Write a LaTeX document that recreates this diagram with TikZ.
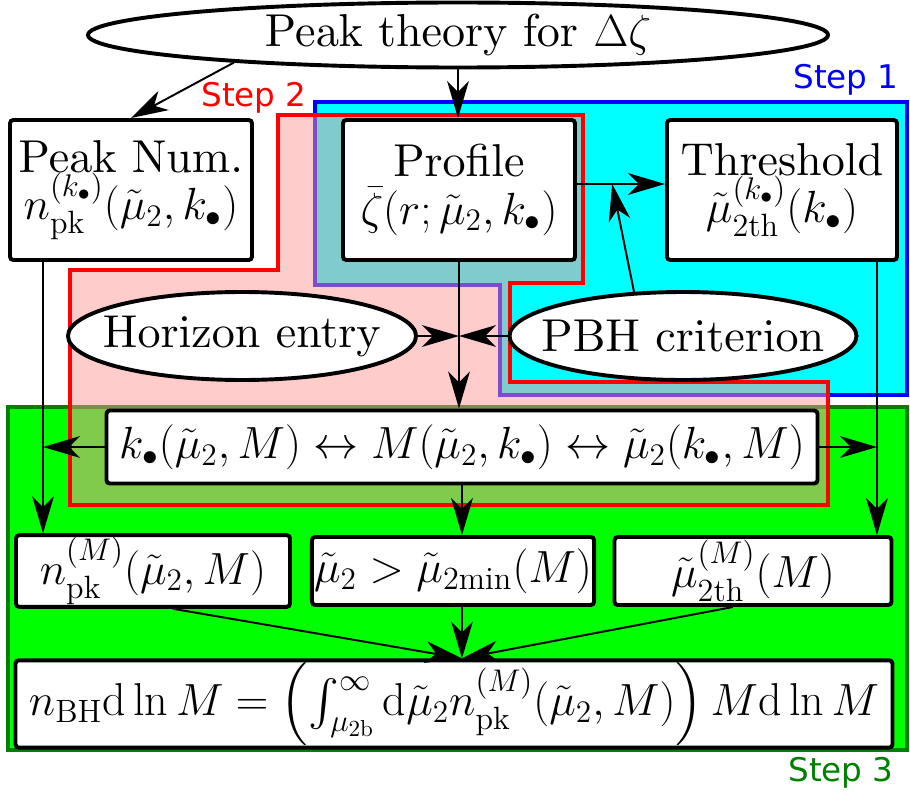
\documentclass[tikz,border=0pt]{standalone}
\usepackage{amsmath,amssymb}
\usepackage{fontspec}
\newfontfamily\stepfont{DejaVu Sans}
\usetikzlibrary{arrows.meta,calc,positioning,shapes.geometric}
\newlength\pxunit
\setlength\pxunit{0.46pt}
\font\boxrm=cmr10 at 21.2pt
\definecolor{stepcyan}{RGB}{0,255,255}
\definecolor{stepgreen}{RGB}{0,255,0}
\definecolor{stepdarkgreen}{RGB}{0,128,0}
\definecolor{stepblue}{RGB}{0,0,255}
\definecolor{stepred}{RGB}{255,0,0}

\tikzset{
  box/.style={draw, line width=1.8pt, rounded corners=1.5pt, fill=white,
    inner sep=1pt, align=center, font=\fontsize{21.2}{21.8}\selectfont\boxrm},
  oval/.style={ellipse, draw, line width=1.8pt, fill=white, inner xsep=-9pt, inner ysep=0pt,
    font=\fontsize{21.2}{21.8}\selectfont\boxrm},
  arr/.style={-{Stealth[length=17pt,width=10pt,inset=5pt]}, line width=0.9pt},
  steplabel/.style={font=\stepfont\fontsize{15}{17}\selectfont},
}

\begin{document}
\begin{tikzpicture}[x=\pxunit, y=-\pxunit]
\useasboundingbox (0,0) rectangle (910,794);

% regions of the three steps
\draw[stepblue, line width=1.4pt, fill=stepcyan]
  (315,102) -- (907,102) -- (907,395) -- (500,395) -- (500,285) -- (315,285) -- cycle;
\draw[stepdarkgreen, line width=1.4pt, fill=stepgreen] (8,407) rectangle (907,750);
\draw[stepred, line width=1.4pt, fill=stepred!40, fill opacity=0.5]
  (278,115) -- (583,115) -- (583,283) -- (510,283) -- (510,382) -- (828,382)
  -- (828,505) -- (70,505) -- (70,270) -- (278,270) -- cycle;

\node[steplabel, text=stepblue] (step1) at (846,80) {Step 1};
\node[steplabel, text=stepred] (step2) at (254,98) {Step 2};
\node[steplabel, text=stepdarkgreen] (step3) at (841,773) {Step 3};

% nodes
\node[oval, minimum width=740\pxunit, minimum height=65\pxunit] (peaktheory) at (458,35)
  {Peak theory for $\Delta\zeta$};
\node[box, minimum width=242\pxunit, minimum height=140\pxunit] (peaknum) at (131,190)
  {Peak Num.\\ $n_{\mathrm{pk}}^{(k_\bullet)}(\tilde\mu_2,k_\bullet)$};
\node[box, minimum width=232\pxunit, minimum height=140\pxunit] (profile) at (459,190)
  {Profile\\ $\bar\zeta(r;\tilde\mu_2,k_\bullet)$};
\node[box, minimum width=230\pxunit, minimum height=140\pxunit] (threshold) at (782,190)
  {Threshold\\ $\tilde\mu_{\mathrm{2th}}^{(k_\bullet)}(k_\bullet)$};
\node[oval, minimum width=348\pxunit, minimum height=88\pxunit] (horizon) at (242,336)
  {Horizon entry};
\node[oval, minimum width=347\pxunit, minimum height=88\pxunit] (pbh) at (683,336)
  {PBH criterion};
\node[box, minimum width=711\pxunit, minimum height=73\pxunit] (relation) at (462,447)
  {$k_\bullet(\tilde\mu_2,M)\leftrightarrow M(\tilde\mu_2,k_\bullet)\leftrightarrow\tilde\mu_2(k_\bullet,M)$};
\node[box, minimum width=274\pxunit, minimum height=68\pxunit] (peaknumM) at (153,571)
  {$n_{\mathrm{pk}}^{(M)}(\tilde\mu_2,M)$};
\node[box, minimum width=277\pxunit, minimum height=68\pxunit] (mumin) at (453,571)
  {$\tilde\mu_2>\tilde\mu_{\mathrm{2min}}(M)$};
\node[box, minimum width=277\pxunit, minimum height=68\pxunit] (thresholdM) at (753,571)
  {$\tilde\mu_{\mathrm{2th}}^{(M)}(M)$};
\node[box, minimum width=877\pxunit, minimum height=68\pxunit] (nbh) at (454,704)
  {$n_{\mathrm{BH}}\mathrm{d}\ln M=\left(\int_{\mu_{\mathrm{2b}}}^{\infty}\mathrm{d}\tilde\mu_2 n_{\mathrm{pk}}^{(M)}(\tilde\mu_2,M)\right)M\mathrm{d}\ln M$};

% connectors
\draw[arr] (peaktheory.187) -- (peaknum.north);
\draw[arr] (peaktheory.south) -- (peaktheory.south |- profile.north);
\draw[arr] ([shift={(0,-6)}]profile.east) -- ([shift={(0,-6)}]threshold.west);
\coordinate (crit) at ($([shift={(0,-6)}]profile.east)!0.4!([shift={(0,-6)}]threshold.west)$);
\draw[arr] (pbh.138) -- (crit);

\coordinate (junction) at (profile.south |- horizon.east);
\draw[arr] (profile.south) -- (profile.south |- relation.north);
\draw[arr] (horizon.east) -- (junction);
\draw[arr] (pbh.west) -- (junction);

\coordinate (leftcol) at ([shift={(35,0)}]peaknum.south west);
\draw[arr] (leftcol) -- (leftcol |- peaknumM.north);
\draw[arr] (relation.west) -- (relation.west -| leftcol);
\coordinate (rightcol) at ([shift={(-22,0)}]threshold.south east);
\draw[arr] (rightcol) -- (rightcol |- thresholdM.north);
\draw[arr] (relation.east) -- (relation.east -| rightcol);
\draw[arr] (relation.south) -- (relation.south |- mumin.north);

\coordinate (sink) at (relation.south |- nbh.north);
\draw[arr] ([shift={(20,0)}]peaknumM.south) -- (sink);
\draw[arr] (relation.south |- mumin.south) -- (sink);
\draw[arr] ([shift={(-20,0)}]thresholdM.south) -- (sink);
\end{tikzpicture}
\end{document}
